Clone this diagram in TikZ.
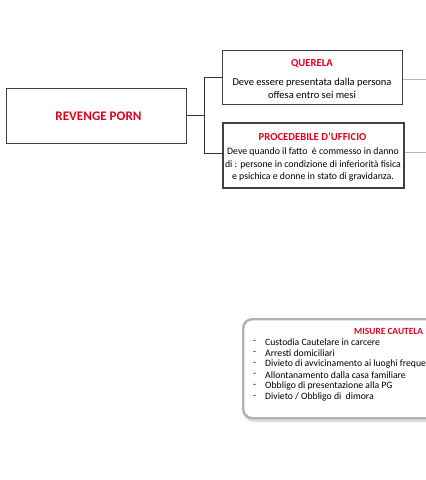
\documentclass[tikz,border=0pt]{standalone}
\usepackage{fontspec}
\setmainfont{Carlito}
\definecolor{tred}{HTML}{E3001B}
\definecolor{lnblue}{HTML}{A9BCD0}
\definecolor{bordg}{HTML}{404040}
\tikzset{
  box/.style={draw=bordg, line width=1pt, fill=white, inner sep=0pt},
  link/.style={draw=black!80, line width=0.9pt},
  outlink/.style={draw=lnblue, line width=1pt},
  ttl/.style={text=tred, font=\bfseries\fontsize{10.7}{12}\selectfont, inner sep=0pt},
  body/.style={align=center, font=\fontsize{10.5}{13}\selectfont, inner sep=0pt},
  item/.style={anchor=west, font=\fontsize{9.7}{11}\selectfont, inner sep=0pt},
}
\begin{document}
\begin{tikzpicture}[x=1pt,y=-1pt]
\useasboundingbox (0,0) rectangle (426,480);
\clip (0,0) rectangle (426,480);
% main box
\node[box, minimum width=180pt, minimum height=55pt] (rp) at (96,115.5) {};
\node[text=tred, font=\bfseries\fontsize{13.1}{15}\selectfont, inner sep=0pt] (rpt) at (98.5,116) {REVENGE PORN};
% querela box
\node[box, minimum width=180pt, minimum height=54pt] (q) at (312,77) {};
\node[ttl] (qt) at (312,64) {QUERELA};
\node[body] (qb) at (312,88.5) {Deve essere presentata dalla persona\\offesa entro sei mesi};
% procedibile box
\node[box, line width=1.3pt, minimum width=181pt, minimum height=65pt] (p) at (313.5,155.5) {};
\node[ttl] (pt) at (312.5,136.5) {PROCEDEBILE D’UFFICIO};
\node[body, font=\fontsize{9.8}{12.6}\selectfont] (pb) at (313,164.5) {Deve quando il fatto~ è commesso in danno\\di : persone in condizione di inferiorità fisica\\e psichica e donne in stato di gravidanza.};
% connectors
\coordinate (j) at (204,115.5);
\draw[link] (rp.east) -- (j);
\draw[link] (q.west) -| (j);
\draw[link] (p.west |- 0,153) -| (j);
\coordinate (qe) at (430,79);
\coordinate (pe) at (430,152);
\draw[outlink] (q.east |- qe) -- (qe);
\draw[outlink] (p.east |- pe) -- (pe);
% misure box
\draw[draw=black!12, line width=4pt, rounded corners=9pt] (245,321) rectangle (450,420);
\node[draw=black!30, line width=2.4pt, rounded corners=9pt, minimum width=205pt, minimum height=99pt, anchor=north west, fill=white] (m) at (242,318) {};
\node[text=tred, font=\bfseries\fontsize{9.4}{11}\selectfont, inner sep=0pt, anchor=west] (mt) at (354,331) {MISURE CAUTELA};
\foreach \t [count=\i] in {Custodia Cautelare in carcere,Arresti domiciliari,Divieto di avvicinamento ai luoghi freque,Allontanamento dalla casa familiare,Obbligo di presentazione alla PG,Divieto / Obbligo di~ dimora}{
  \node[item] (d\i) at (253,331+11*\i) {-};
  \node[item] (m\i) at (265,331+11*\i) {\t};
}
\end{tikzpicture}
\end{document}
